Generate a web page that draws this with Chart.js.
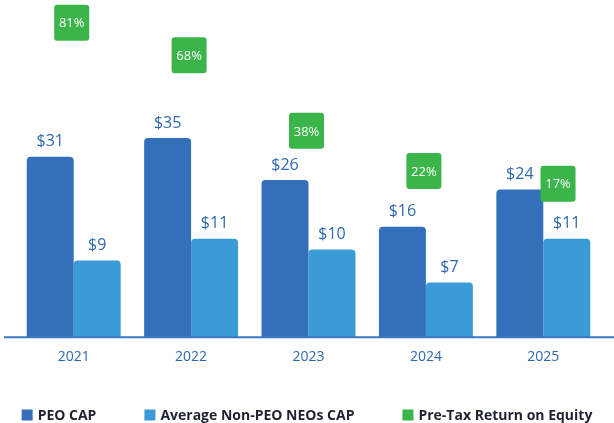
<!DOCTYPE html>
<html>
<head>
<meta charset="utf-8">
<script src="https://cdn.jsdelivr.net/npm/chart.js@4.4.1/dist/chart.umd.min.js"></script>
<style>
  html, body { margin: 0; padding: 0; background: #fff; }
  #wrap { width: 614px; height: 423px; position: relative; }
</style>
</head>
<body>
<div id="wrap"><canvas id="grafico"></canvas></div>
<script>
// dados do gráfico
const years = ["2021", "2022", "2023", "2024", "2025"];
const peoCap = [31, 35, 26, 16, 24];
const nonPeoCap = [9, 11, 10, 7, 11];
const preTaxRoe = [81, 68, 38, 22, 17];
const legendLabels = ["PEO CAP", "Average Non-PEO NEOs CAP", "Pre-Tax Return on Equity"];

const FONT = "'Open Sans', sans-serif";
const BLUE_DARK = "#3470b9";
const BLUE_LIGHT = "#3a9bd8";
const GREEN = "#3bb54a";
const LABEL_BLUE = "#2f68b1";

// rótulos, caixas verdes, linha de base e legenda
const decorPlugin = {
  id: "decor",
  afterDatasetsDraw(chart) {
    const ctx = chart.ctx;
    const area = chart.chartArea;

    // linha de base
    ctx.save();
    ctx.strokeStyle = "#3a78c0";
    ctx.lineWidth = 2;
    ctx.beginPath();
    ctx.moveTo(4, area.bottom);
    ctx.lineTo(chart.width, area.bottom);
    ctx.stroke();

    // valores em cima das barras
    ctx.font = "16px " + FONT;
    ctx.fillStyle = LABEL_BLUE;
    ctx.textAlign = "center";
    ctx.textBaseline = "middle";
    const peoRects = [];
    [0, 1].forEach((di) => {
      const meta = chart.getDatasetMeta(di);
      meta.data.forEach((bar, i) => {
        const txt = "$" + chart.data.datasets[di].data[i];
        const y = bar.y - 15;
        ctx.fillText(txt, bar.x, y);
        if (di === 0) {
          const w = ctx.measureText(txt).width;
          peoRects.push({ l: bar.x - w / 2, r: bar.x + w / 2, t: y - 9, b: y + 9 });
        }
      });
    });

    // caixas verdes do ROE
    const roeMeta = chart.getDatasetMeta(2);
    const bw = 35, bh = 36;
    ctx.font = "13px " + FONT;
    roeMeta.data.forEach((pt, i) => {
      let cx = pt.x - 2;
      const cy = pt.y;
      const lab = peoRects[i];
      // desvia do rótulo da barra se encostar
      if (lab && cx - bw / 2 < lab.r + 7 && cy + bh / 2 > lab.t && cy - bh / 2 < lab.b) {
        cx = lab.r + 7 + bw / 2;
      }
      ctx.fillStyle = GREEN;
      ctx.beginPath();
      ctx.roundRect(cx - bw / 2, cy - bh / 2, bw, bh, 3);
      ctx.fill();
      ctx.fillStyle = "#ffffff";
      ctx.fillText(chart.data.datasets[2].data[i] + "%", cx, cy + 1);
    });

    // legenda
    const colors = [BLUE_DARK, BLUE_LIGHT, GREEN];
    ctx.font = "bold 14px " + FONT;
    ctx.textAlign = "left";
    const gap = 48, box = 11, sp = 5;
    const widths = legendLabels.map((t) => box + sp + ctx.measureText(t).width);
    const total = widths.reduce((a, b) => a + b, 0) + gap * (widths.length - 1);
    let x = (chart.width - total) / 2;
    const ly = 416;
    legendLabels.forEach((t, i) => {
      ctx.fillStyle = colors[i];
      ctx.fillRect(x, ly - box / 2 - 1, box, box);
      ctx.fillStyle = "#1f2330";
      ctx.fillText(t, x + box + sp, ly);
      x += widths[i] + gap;
    });
    ctx.restore();
  },
};

new Chart(document.getElementById("grafico").getContext("2d"), {
  data: {
    labels: years,
    datasets: [
      {
        type: "bar",
        label: legendLabels[0],
        data: peoCap,
        backgroundColor: BLUE_DARK,
        yAxisID: "y",
        base: -7.6,
        borderRadius: { topLeft: 4, topRight: 4 },
        borderSkipped: "bottom",
        categoryPercentage: 0.8,
        barPercentage: 1.0,
      },
      {
        type: "bar",
        label: legendLabels[1],
        data: nonPeoCap,
        backgroundColor: BLUE_LIGHT,
        yAxisID: "y1",
        base: 2,
        borderRadius: { topLeft: 4, topRight: 4 },
        borderSkipped: "bottom",
        categoryPercentage: 0.8,
        barPercentage: 1.0,
      },
      {
        type: "line",
        label: legendLabels[2],
        data: preTaxRoe,
        yAxisID: "y2",
        showLine: false,
        pointRadius: 0,
        backgroundColor: GREEN,
        borderColor: GREEN,
      },
    ],
  },
  options: {
    responsive: true,
    maintainAspectRatio: false,
    animation: false,
    layout: { padding: { left: 15, right: 12, top: 0, bottom: 47 } },
    plugins: { legend: { display: false }, tooltip: { enabled: false } },
    scales: {
      x: {
        grid: { display: false, drawTicks: false },
        border: { display: false },
        ticks: { color: LABEL_BLUE, font: { family: FONT, size: 14 }, padding: 11 },
      },
      y: { display: false, min: -7.6, max: 64.5 },
      y1: { display: false, min: 2, max: 32.8 },
      y2: { display: false, min: -44, max: 90 },
    },
  },
  plugins: [decorPlugin],
});
</script>
</body>
</html>
